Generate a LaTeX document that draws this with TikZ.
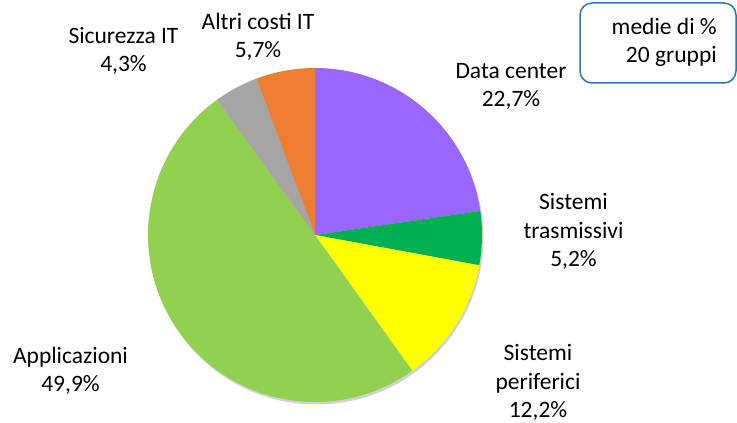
\documentclass[tikz,border=0pt]{standalone}
\usepackage{fontspec}
\setmainfont{Carlito}
\usetikzlibrary{calc}
\definecolor{cData}{HTML}{9966FF}
\definecolor{cTrasm}{HTML}{00B050}
\definecolor{cPerif}{HTML}{FFFF00}
\definecolor{cAppl}{HTML}{92D050}
\definecolor{cSicur}{HTML}{A5A5A5}
\definecolor{cAltri}{HTML}{ED7D31}
\definecolor{cBox}{HTML}{2E75B6}
\begin{document}
\begin{tikzpicture}[x=1pt,y=1pt,
  lbl/.style={align=center,anchor=base,inner sep=0pt,font=\fontsize{23.5}{28.8}\selectfont},
  legendbox/.style={draw=cBox,line width=1.5pt,rounded corners=12pt,fill=white}]
\useasboundingbox (0,0) rectangle (737,423);
\coordinate (c) at (315,188);
\def\R{167}
% shadow
\fill[black!18] ($(c)+(1.5,-2.5)$) circle[radius=\R];
\fill[cData]  (c) -- ++(90:\R)    arc[start angle=90,    end angle=8.28,   radius=\R] -- cycle;
\fill[cTrasm] (c) -- ++(8.28:\R)  arc[start angle=8.28,  end angle=-10.44, radius=\R] -- cycle;
\fill[cPerif] (c) -- ++(-10.44:\R) arc[start angle=-10.44, end angle=-54.36, radius=\R] -- cycle;
\fill[cAppl]  (c) -- ++(-54.36:\R) arc[start angle=-54.36, end angle=-234,  radius=\R] -- cycle;
\fill[cSicur] (c) -- ++(126:\R)   arc[start angle=126,   end angle=110.52, radius=\R] -- cycle;
\fill[cAltri] (c) -- ++(110.52:\R) arc[start angle=110.52, end angle=90,   radius=\R] -- cycle;
% labels (anchor = baseline of last line)
\node[lbl] (lsicur) at (123.5,351) {Sicurezza IT\\4,3\%};
\node[lbl] (laltri) at (258,365) {Altri costi IT\\5,7\%};
\node[lbl] (ldata)  at (511,316) {Data center\\22,7\%};
\node[lbl] (ltrasm) at (573.5,156) {Sistemi\\trasmissivi\\5,2\%};
\node[lbl] (lperif) at (538,5) {Sistemi\\periferici\\12,2\%};
\node[lbl] (lappl)  at (70.5,31) {Applicazioni\\49,9\%};
% legend box
\draw[legendbox] (580,340) rectangle (736,420);
\node[lbl,align=right,anchor=base east] (lbox) at (717,360) {medie di \%\\20 gruppi};
\end{tikzpicture}
\end{document}
